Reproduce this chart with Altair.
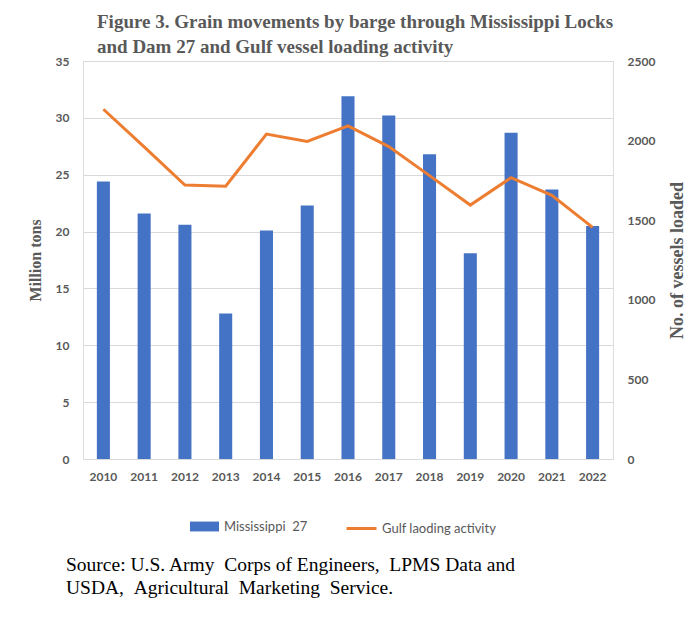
import altair as alt
import pandas as pd

years = ["2010", "2011", "2012", "2013", "2014", "2015", "2016",
         "2017", "2018", "2019", "2020", "2021", "2022"]
barge_mt = [24.4, 21.6, 20.6, 12.8, 20.1, 22.3, 31.9, 30.2, 26.8, 18.1, 28.7, 23.7, 20.5]
vessels = [2197, 1960, 1721, 1713, 2041, 1995, 2092, 1962, 1780, 1595, 1767, 1656, 1455]

NB = "\u00a0"
bar_name = "Mississippi " + NB + "27"
line_name = "Gulf laoding activity"
title_lines = ["Figure 3. Grain movements by barge through Mississippi Locks",
               "and Dam 27 and Gulf vessel loading activity"]
source_lines = ["Source: U.S. Army " + NB + "Corps of Engineers, " + NB + "LPMS Data and",
                "USDA, " + NB + "Agricultural " + NB + "Marketing " + NB + "Service."]

df = pd.DataFrame({
    "year": years,
    "barge": barge_mt,
    "vessels": vessels,
    "bar_series": [bar_name] * len(years),
    "line_series": [line_name] * len(years),
})

GRAY = "#595959"
SERIF = "Liberation Serif"
SANS = "Lato"

x_enc = alt.X("year:O", title=None,
              scale=alt.Scale(paddingInner=0.68, paddingOuter=0.34),
              axis=alt.Axis(labelAngle=0, labelFont=SANS, labelFontWeight="bold",
                            labelFontSize=12, labelColor=GRAY, labelPadding=12,
                            ticks=False, domain=False, grid=False))

bars = alt.Chart(df).mark_bar(color="#4472C4").encode(
    x=x_enc,
    y=alt.Y("barge:Q", title="Million tons",
            scale=alt.Scale(domain=[0, 35]),
            axis=alt.Axis(values=[0, 5, 10, 15, 20, 25, 30, 35], grid=True,
                          gridColor="#d9d9d9", gridWidth=1, ticks=False, domain=False,
                          labelFont=SANS, labelFontWeight="bold", labelFontSize=12,
                          labelColor=GRAY, labelPadding=14,
                          titleFont=SERIF, titleFontWeight="bold", titleFontSize=16,
                          titleColor=GRAY, titlePadding=12)),
    color=alt.Color("bar_series:N",
                    scale=alt.Scale(domain=[bar_name], range=["#4472C4"]),
                    legend=alt.Legend(title=None, orient="none", legendX=107, legendY=451,
                                      symbolType="M-1,-0.34H1V0.34H-1Z", symbolSize=841,
                                      symbolStrokeWidth=0, labelOffset=5,
                                      labelFont=SANS, labelFontSize=13, labelColor=GRAY)),
)

line = alt.Chart(df).mark_line(strokeWidth=3).encode(
    x=alt.X("year:O"),
    y=alt.Y("vessels:Q", title="No. of vessels loaded",
            scale=alt.Scale(domain=[0, 2500]),
            axis=alt.Axis(orient="right", values=[0, 500, 1000, 1500, 2000, 2500],
                          format="d", grid=False, ticks=False, domain=False,
                          labelFont=SANS, labelFontWeight="bold", labelFontSize=12,
                          labelColor=GRAY, labelPadding=14,
                          titleFont=SERIF, titleFontWeight="bold", titleFontSize=18,
                          titleColor=GRAY, titleAngle=270, titleX=64, titleY=199,
                          titleAlign="center", titleBaseline="middle")),
    stroke=alt.Stroke("line_series:N",
                      scale=alt.Scale(domain=[line_name], range=["#ED7D31"]),
                      legend=alt.Legend(title=None, orient="none", legendX=262, legendY=451,
                                        symbolType="stroke", symbolSize=900,
                                        symbolStrokeWidth=3, labelOffset=4,
                                        labelFont=SANS, labelFontSize=13, labelColor=GRAY)),
)

source = alt.Chart(pd.DataFrame({"k": [0]})).mark_text(
    align="left", baseline="middle", font=SERIF, fontSize=19.5, lineHeight=23, color="black"
).encode(
    x=alt.value(-17),
    y=alt.value(504),
    text=alt.value(source_lines),
)

chart = alt.layer(bars, line, source).resolve_scale(
    y="independent"
).properties(
    width=530,
    height=398,
    padding={"left": 83, "top": 61, "right": 81, "bottom": 161},
    autosize=alt.AutoSizeParams(type="none"),
    title=alt.TitleParams(text=title_lines, anchor="start", frame="group",
                          font=SERIF, fontWeight="bold", fontSize=19, color=GRAY,
                          lineHeight=25, dx=14, dy=2, offset=0),
).configure_view(stroke=None).configure(background="white")

chart.save("out.html", embed_options={"renderer": "svg", "actions": False})
